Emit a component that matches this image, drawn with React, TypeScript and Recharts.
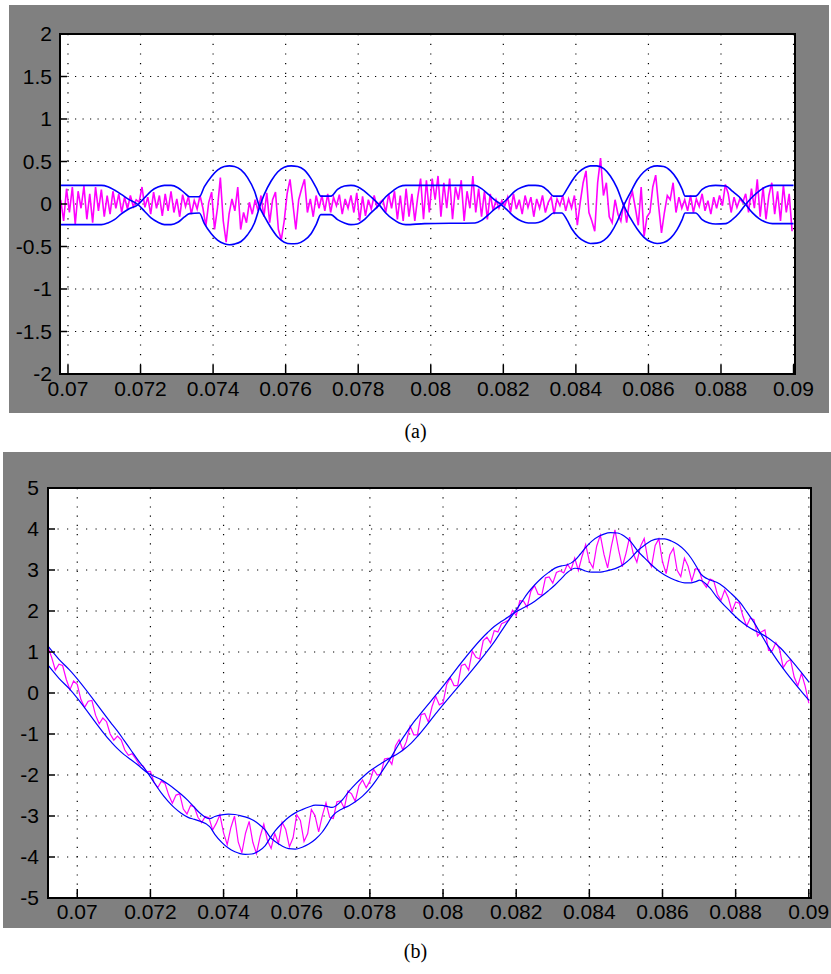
import { LineChart, Line, XAxis, YAxis, CartesianGrid } from 'recharts';

// ---- panel (a) ----
// times where the two blue envelope curves were read
const envT = [
  0.06978, 0.07092, 0.0711, 0.07128, 0.07147, 0.07165, 0.07193, 0.07211, 0.07229, 0.07248,
  0.07266, 0.07284, 0.07303, 0.07321, 0.07335, 0.07362, 0.07376, 0.07395, 0.07413, 0.07431,
  0.07445, 0.07459, 0.07477, 0.07495, 0.07514, 0.07528, 0.07541, 0.0756, 0.07578, 0.07596,
  0.07615, 0.07633, 0.07651, 0.0767, 0.07684, 0.07697, 0.07725, 0.07743, 0.07762, 0.0778,
  0.07798, 0.07817, 0.07835, 0.07858, 0.07876, 0.07895, 0.07913, 0.07931,
  0.07983, 0.08122, 0.0814, 0.08159, 0.08177, 0.08194, 0.08214, 0.08232, 0.08251, 0.08269,
  0.08288, 0.08306, 0.08324, 0.08338, 0.08361, 0.08375, 0.08389, 0.08407, 0.08426, 0.0844,
  0.08458, 0.08477, 0.08495, 0.08513, 0.08532, 0.0855, 0.08569, 0.08587, 0.08606, 0.08624,
  0.08642, 0.08661, 0.08679, 0.08693, 0.08701, 0.0873, 0.08748, 0.08767, 0.08785, 0.08813,
  0.08831, 0.0885, 0.08868, 0.08887, 0.08905, 0.08924, 0.08942, 0.09,
];
const envA1 = [
  0.219, 0.219, 0.204, 0.164, 0.113, 0.061, -0.006, -0.085, -0.164, -0.215,
  -0.243, -0.243, -0.215, -0.152, -0.113, -0.105, -0.231, -0.35, -0.429, -0.468,
  -0.48, -0.472, -0.441, -0.362, -0.223, -0.038, 0.113, 0.271, 0.377, 0.433,
  0.449, 0.441, 0.401, 0.298, 0.192, 0.093, 0.093, 0.172, 0.211, 0.219,
  0.204, 0.152, 0.085, -0.01, -0.105, -0.176, -0.223, -0.243,
  -0.231, -0.223, -0.192, -0.125, -0.057, -0.006, 0.073, 0.152, 0.196, 0.219,
  0.219, 0.208, 0.152, 0.093, 0.093, 0.172, 0.271, 0.37, 0.429, 0.449,
  0.449, 0.417, 0.33, 0.192, -0.018, -0.164, -0.294, -0.389, -0.445, -0.464,
  -0.453, -0.401, -0.302, -0.184, -0.105, -0.105, -0.184, -0.223, -0.235, -0.231,
  -0.184, -0.105, -0.006, 0.085, 0.152, 0.204, 0.219, 0.219,
];
const envA2 = [
  -0.243, -0.243, -0.223, -0.184, -0.117, -0.065, -0.006, 0.073, 0.152, 0.2,
  0.219, 0.219, 0.192, 0.132, 0.085, 0.085, 0.204, 0.322, 0.401, 0.441,
  0.449, 0.441, 0.401, 0.31, 0.152, -0.034, -0.144, -0.283, -0.389, -0.449,
  -0.468, -0.464, -0.429, -0.35, -0.243, -0.125, -0.125, -0.184, -0.223, -0.243,
  -0.235, -0.184, -0.105, -0.01, 0.085, 0.152, 0.204, 0.219,
  0.219, 0.219, 0.18, 0.113, 0.045, -0.006, -0.085, -0.156, -0.204, -0.223,
  -0.223, -0.204, -0.152, -0.105, -0.105, -0.184, -0.294, -0.389, -0.445, -0.464,
  -0.46, -0.429, -0.35, -0.215, -0.018, 0.132, 0.283, 0.377, 0.433, 0.449,
  0.441, 0.389, 0.291, 0.172, 0.093, 0.093, 0.172, 0.211, 0.219, 0.211,
  0.152, 0.085, -0.006, -0.105, -0.172, -0.215, -0.231, -0.231,
];
// magenta trace, sampled every 0.00008 s from 0.0698
const MAG_A_START = 0.0698;
const MAG_A_STEP = 0.00008;
const magA = [
  0.05, -0.2, 0.18, -0.1, 0.2, -0.24, 0.15, -0.05, 0.21, -0.18,
  0.12, -0.22, 0.2, -0.08, 0.17, -0.15, 0.1, -0.12, 0.15, -0.05,
  0.12, -0.1, 0.08, -0.06, 0.1, -0.03, 0.05, 0.02, 0.2, -0.04,
  0.08, -0.12, 0.14, -0.05, 0.1, -0.14, 0.12, -0.08, 0.15, -0.1,
  0.06, -0.15, 0.11, -0.03, 0.09, -0.12, 0.04, -0.06, 0.1, -0.05,
  -0.26, 0.02, 0.14, -0.3, -0.05, 0.31, -0.2, -0.45, -0.12, 0.06,
  -0.08, 0.2, -0.3, -0.1, -0.22, 0.02, -0.12, 0.05, -0.08, 0.1,
  -0.15, 0.13, -0.22, 0.05, 0.14, -0.3, -0.42, -0.2, 0.12, 0.29,
  0.0, -0.3, 0.05, 0.18, 0.29, -0.1, 0.06, -0.15, 0.1, -0.05,
  0.1, -0.08, 0.12, -0.1, 0.08, -0.02, 0.11, -0.12, 0.06, -0.05,
  0.1, -0.1, 0.13, -0.2, 0.09, -0.14, 0.05, -0.06, 0.1, -0.04,
  0.02, 0.05, -0.1, 0.12, -0.05, 0.15, -0.18, 0.1, -0.2, 0.18,
  -0.15, 0.12, -0.2, 0.08, 0.3, -0.18, 0.28, -0.1, 0.3, 0.05,
  0.33, -0.15, 0.25, -0.05, 0.3, -0.18, 0.2, 0.05, 0.28, -0.2,
  0.15, -0.05, 0.33, -0.1, 0.18, -0.15, 0.15, -0.18, 0.12, -0.08,
  0.05, -0.05, 0.04, -0.02, 0.08, -0.1, 0.12, -0.06, 0.05, -0.12,
  0.1, -0.04, 0.08, -0.15, 0.06, -0.05, 0.1, -0.1, 0.02, 0.08,
  -0.12, 0.06, -0.02, 0.1, -0.08, 0.06, -0.05, 0.1, -0.25, 0.02,
  0.25, 0.39, -0.1, -0.2, -0.32, 0.25, 0.54, 0.1, 0.25, -0.15,
  -0.22, 0.05, -0.12, -0.2, 0.02, -0.22, 0.05, 0.14, -0.05, -0.25,
  0.2, -0.38, -0.15, -0.1, 0.2, 0.34, -0.02, -0.34, -0.1, 0.1,
  0.05, 0.25, -0.1, 0.08, -0.05, 0.05, -0.08, 0.1, -0.1, 0.06,
  -0.03, 0.12, -0.08, 0.04, -0.12, 0.08, -0.05, 0.1, -0.02, 0.23,
  0.12, -0.1, 0.08, -0.04, 0.06, 0.02, 0.12, -0.1, 0.18, -0.05,
  0.29, -0.15, 0.2, -0.18, 0.1, 0.25, -0.12, 0.15, -0.2, 0.22,
  -0.1, 0.12, -0.32,
];

// ---- panel (b) ----
const envTB = [0.0692, 0.0695, ...envT];
const envB1 = [
  1.143, 0.821,
  0.57, -0.726, -0.93, -1.155, -1.397, -1.625, -1.954, -2.195, -2.429, -2.635,
  -2.802, -2.932, -3.033, -3.083, -3.125, -3.257, -3.447, -3.643, -3.783, -3.873,
  -3.918, -3.935, -3.927, -3.86, -3.722, -3.528, -3.365, -3.177, -3.031, -2.924,
  -2.844, -2.78, -2.737, -2.742, -2.768, -2.789, -2.603, -2.394, -2.209, -2.054,
  -1.914, -1.796, -1.697, -1.57, -1.484, -1.362, -1.221, -1.049,
  -0.473, 1.034, 1.248, 1.503, 1.743, 1.951, 2.209, 2.441, 2.64, 2.8,
  2.936, 3.045, 3.101, 3.122, 3.241, 3.384, 3.541, 3.705, 3.821, 3.876,
  3.911, 3.903, 3.828, 3.691, 3.469, 3.301, 3.135, 2.995, 2.88, 2.794,
  2.728, 2.687, 2.688, 2.722, 2.752, 2.556, 2.344, 2.156, 1.995, 1.754,
  1.636, 1.533, 1.454, 1.353, 1.234, 1.085, 0.907, 0.274,
];
const envB2 = [
  0.681, 0.359,
  0.108, -1.188, -1.357, -1.503, -1.627, -1.751, -1.954, -2.037, -2.113, -2.22,
  -2.34, -2.47, -2.626, -2.799, -2.927, -3.067, -3.012, -2.971, -2.953, -2.964,
  -2.989, -3.022, -3.085, -3.188, -3.347, -3.524, -3.622, -3.731, -3.797, -3.806,
  -3.761, -3.685, -3.567, -3.39, -3.203, -3.007, -2.821, -2.75, -2.643, -2.516,
  -2.353, -2.132, -1.887, -1.57, -1.294, -1.034, -0.794, -0.587,
  -0.023, 1.476, 1.62, 1.741, 1.845, 1.951, 2.051, 2.133, 2.24, 2.358,
  2.494, 2.633, 2.797, 2.924, 3.043, 3.028, 2.976, 2.946, 2.947, 2.963,
  3.002, 3.057, 3.148, 3.284, 3.469, 3.597, 3.712, 3.761, 3.758, 3.707,
  3.622, 3.477, 3.281, 3.078, 2.95, 2.754, 2.7, 2.59, 2.449, 2.196,
  1.972, 1.723, 1.454, 1.163, 0.91, 0.666, 0.457, -0.176,
];
// magenta trace, sampled every 0.0001 s from 0.0692
const MAG_B_START = 0.0692;
const MAG_B_STEP = 0.0001;
const magB = [
  1.12, 0.87, 0.56, 0.7, 0.67, 0.33, 0.08, 0.29, 0.21, -0.16,
  -0.35, -0.2, -0.18, -0.54, -0.75, -0.61, -0.7, -1.0, -1.15, -1.05,
  -1.14, -1.39, -1.52, -1.48, -1.61, -1.75, -1.78, -1.92, -1.91, -2.18,
  -2.31, -2.15, -2.21, -2.49, -2.69, -2.49, -2.46, -2.83, -2.95, -2.74,
  -2.78, -3.03, -3.16, -3.01, -3.04, -3.34, -3.18, -2.97, -3.41, -3.7,
  -3.28, -3.0, -3.63, -3.9, -3.42, -3.13, -3.64, -3.92, -3.5, -3.2,
  -3.6, -3.79, -3.43, -3.67, -3.15, -3.33, -3.75, -3.53, -2.97, -3.11,
  -3.62, -3.43, -2.84, -2.99, -3.39, -2.99, -2.68, -3.03, -3.06, -2.65,
  -2.63, -2.81, -2.39, -2.46, -2.64, -2.26, -2.12, -2.31, -2.15, -1.86,
  -2.0, -1.98, -1.61, -1.59, -1.74, -1.29, -1.14, -1.39, -1.18, -0.81,
  -1.02, -1.02, -0.53, -0.5, -0.71, -0.33, -0.08, -0.29, -0.24, 0.21,
  0.37, 0.18, 0.18, 0.67, 0.7, 0.56, 1.02, 0.87, 0.83, 1.28,
  1.36, 1.22, 1.52, 1.49, 1.69, 1.73, 1.78, 2.02, 1.89, 2.25,
  2.24, 2.09, 2.48, 2.62, 2.41, 2.39, 2.81, 2.83, 2.68, 2.94,
  2.98, 2.93, 3.14, 3.01, 3.29, 2.99, 3.33, 3.62, 3.21, 3.05,
  3.58, 3.85, 3.38, 3.05, 3.57, 3.98, 3.49, 3.08, 3.4, 3.8,
  3.4, 3.19, 3.58, 3.77, 3.25, 3.08, 3.6, 3.76, 3.2, 2.91,
  3.37, 3.53, 2.99, 2.84, 3.29, 3.09, 2.73, 3.03, 3.01, 2.7,
  2.58, 2.78, 2.74, 2.41, 2.26, 2.51, 2.32, 1.99, 2.22, 2.19,
  1.87, 1.63, 1.83, 1.79, 1.39, 1.49, 1.54, 1.04, 1.03, 1.23,
  1.07, 0.62, 0.76, 0.82, 0.39, 0.18, 0.48, 0.17, -0.25,
];

const xTicks = [0.07, 0.072, 0.074, 0.076, 0.078, 0.08, 0.082, 0.084, 0.086, 0.088, 0.09];
const yTicksA = [-2, -1.5, -1, -0.5, 0, 0.5, 1, 1.5, 2];
const yTicksB = [-5, -4, -3, -2, -1, 0, 1, 2, 3, 4, 5];

const toPts = (ts: number[], vs: number[]) => ts.map((t, k) => ({ t, v: vs[k] }));
const sampled = (start: number, step: number, vs: number[]) =>
  vs.map((v, k) => ({ t: start + k * step, v }));

const FONT = '"Liberation Sans", Arial, sans-serif';
const axisLine = { stroke: '#000', strokeWidth: 2 };
const tickLine = { stroke: '#000', strokeWidth: 1.5 };
const tickText = { fill: '#000', fontSize: 21, fontFamily: FONT };

type PanelProps = {
  top: number;
  height: number;
  margin: { top: number; right: number; bottom: number; left: number };
  xAxisH: number;
  yAxisW: number;
  xDomain: [number, number];
  yDomain: [number, number];
  yTicks: number[];
  env1: { t: number; v: number }[];
  env2: { t: number; v: number }[];
  mag: { t: number; v: number }[];
  hDash: string;
  vDash: string;
  lw: number;
  xMargin: number;
  yMargin: number;
};

function Panel(p: PanelProps) {
  // white plot background under the svg
  const px = p.margin.left + p.yAxisW;
  const py = p.margin.top + 1;
  const pw = 831 - p.margin.right - 1 - px;
  const ph = p.height - p.margin.bottom - p.xAxisH - py;
  return (
    <div style={{ position: 'absolute', left: 0, top: p.top }}>
      <div style={{
        position: 'absolute', left: px - 1, top: py - 1, width: pw + 2, height: ph + 2,
        background: '#fff', border: '2px solid #000', boxSizing: 'border-box',
      }} />
      <div style={{ position: 'absolute', left: 0, top: 0 }}>
        <LineChart width={831} height={p.height} margin={p.margin}>
          <CartesianGrid vertical={false} stroke="#000" strokeWidth={1.2} strokeDasharray={p.hDash} />
          <CartesianGrid horizontal={false} stroke="#000" strokeWidth={1.2} strokeDasharray={p.vDash} />
          <XAxis type="number" dataKey="t" domain={p.xDomain} ticks={xTicks} interval={0}
            allowDataOverflow height={p.xAxisH} tickSize={-9} tickMargin={p.xMargin}
            axisLine={axisLine} tickLine={tickLine} tick={tickText} />
          <XAxis xAxisId="top" orientation="top" type="number" domain={p.xDomain} ticks={xTicks}
            interval={0} allowDataOverflow height={1} tickSize={-9} tick={false}
            axisLine={axisLine} tickLine={tickLine} />
          <YAxis type="number" domain={p.yDomain} ticks={p.yTicks} interval={0} allowDataOverflow
            width={p.yAxisW} tickSize={-7} tickMargin={p.yMargin}
            axisLine={axisLine} tickLine={tickLine} tick={tickText} />
          <YAxis yAxisId="right" orientation="right" type="number" domain={p.yDomain} ticks={p.yTicks}
            interval={0} allowDataOverflow width={1} tickSize={-7} tick={false}
            axisLine={axisLine} tickLine={tickLine} />
          <Line data={p.mag} dataKey="v" type="linear" stroke="#ff00ff" strokeWidth={p.lw}
            dot={false} isAnimationActive={false} />
          <Line data={p.env1} dataKey="v" type="monotone" stroke="#0000ff" strokeWidth={p.lw}
            dot={false} isAnimationActive={false} />
          <Line data={p.env2} dataKey="v" type="monotone" stroke="#0000ff" strokeWidth={p.lw}
            dot={false} isAnimationActive={false} />
        </LineChart>
      </div>
    </div>
  );
}

const caption = (top: number): React.CSSProperties => ({
  position: 'absolute', left: 0, top, width: 831, textAlign: 'center',
  fontFamily: '"Liberation Serif", "Times New Roman", serif', fontSize: 20, color: '#000',
});

export default function App() {
  return (
    <div style={{ position: 'absolute', left: 0, top: 0, width: 831, height: 974, background: '#fff', overflow: 'hidden' }}>
      <div style={{ position: 'absolute', left: 9, top: 5, width: 820, height: 408, background: '#808080' }} />
      <Panel top={0} height={420} margin={{ top: 33, right: 35, bottom: 0, left: 0 }}
        xAxisH={46} yAxisW={60}
        xDomain={[0.06978, 0.09004]} yDomain={[-2, 2]} yTicks={yTicksA}
        env1={toPts(envT, envA1)} env2={toPts(envT, envA2)}
        mag={sampled(MAG_A_START, MAG_A_STEP, magA)}
        hDash="1.2 6.3" vDash="1.2 8.5" lw={1.6} xMargin={16} yMargin={15} />
      <div style={caption(420)}>(a)</div>

      <div style={{ position: 'absolute', left: 3, top: 452, width: 828, height: 476, background: '#808080' }} />
      <Panel top={440} height={500} margin={{ top: 47, right: 19, bottom: 0, left: 0 }}
        xAxisH={42} yAxisW={48}
        xDomain={[0.0692, 0.09006]} yDomain={[-5, 5]} yTicks={yTicksB}
        env1={toPts(envTB, envB1)} env2={toPts(envTB, envB2)}
        mag={sampled(MAG_B_START, MAG_B_STEP, magB)}
        hDash="1.2 8.3" vDash="1.2 8" lw={1.2} xMargin={15} yMargin={16} />
      <div style={caption(940)}>(b)</div>
    </div>
  );
}
